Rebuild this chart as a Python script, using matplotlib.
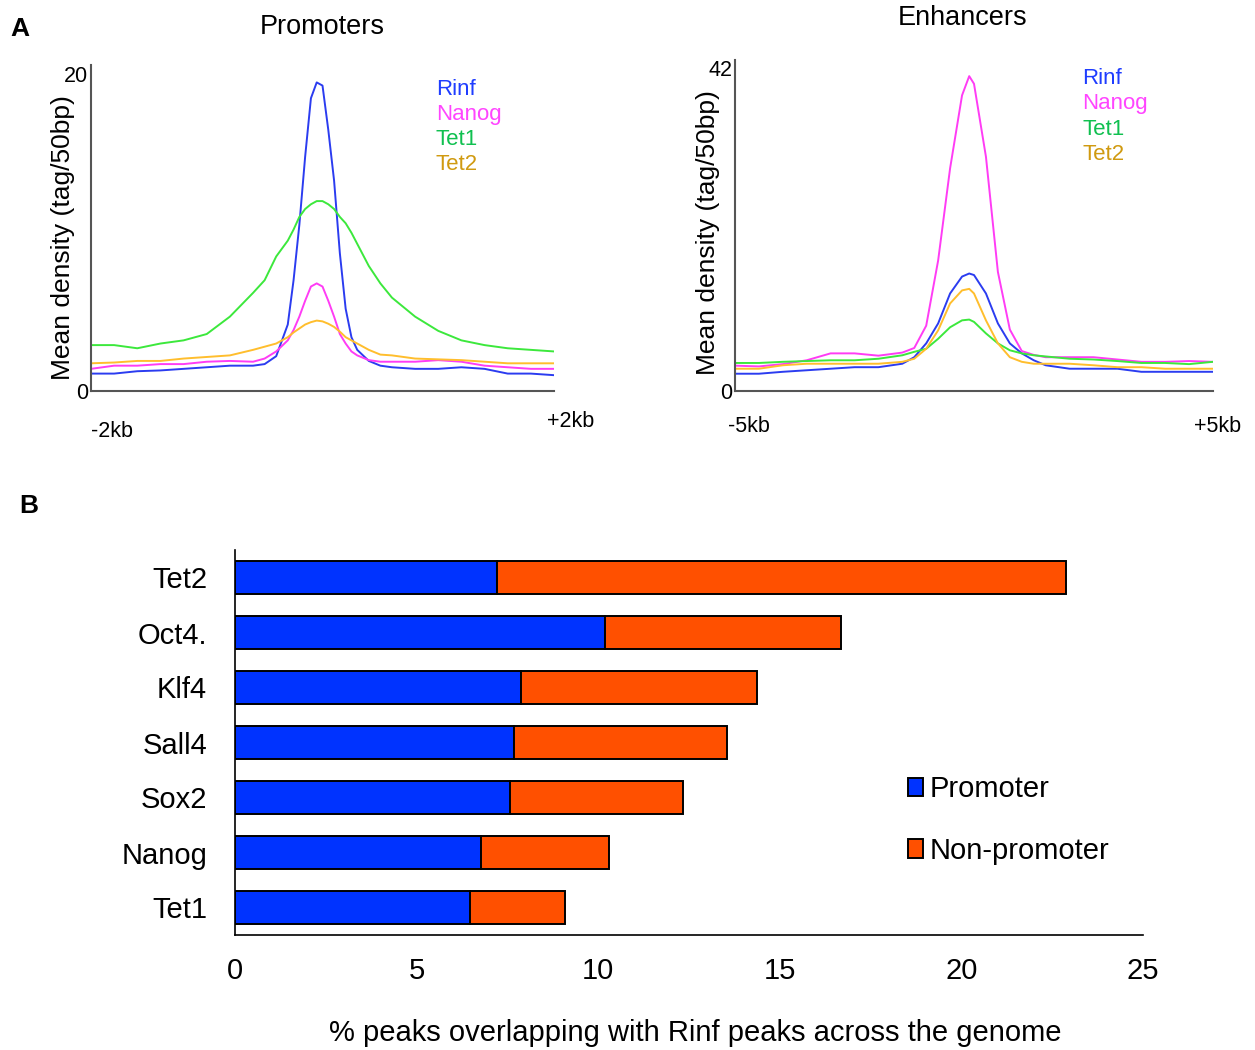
import matplotlib.pyplot as plt
from matplotlib.patches import Patch

plt.rcParams['font.family'] = ['Liberation Sans', 'DejaVu Sans']

# ---- panel A, promoters (kb from peak centre) ----
prom_x = [-2.0, -1.8, -1.6, -1.4, -1.2, -1.0, -0.8, -0.6, -0.5, -0.4, -0.3, -0.25,
          -0.2, -0.15, -0.1, -0.05, 0.0, 0.05, 0.1, 0.15, 0.2, 0.25, 0.3, 0.4,
          0.5, 0.6, 0.8, 1.0, 1.2, 1.4, 1.6, 1.8, 2.0]
prom_rinf = [1.1, 1.1, 1.25, 1.3, 1.4, 1.5, 1.6, 1.6, 1.7, 2.2, 4.2, 7.0,
             10.5, 14.8, 18.5, 19.5, 19.3, 16.5, 13.3, 8.7, 5.2, 3.4, 2.6, 1.9,
             1.6, 1.5, 1.4, 1.4, 1.5, 1.4, 1.1, 1.1, 1.0]
prom_nanog = [1.4, 1.6, 1.6, 1.7, 1.7, 1.85, 1.9, 1.85, 2.05, 2.5, 3.2, 3.85,
              4.7, 5.7, 6.6, 6.8, 6.6, 5.7, 4.7, 3.6, 3.0, 2.5, 2.25, 1.95,
              1.85, 1.85, 1.85, 1.95, 1.85, 1.6, 1.5, 1.4, 1.4]
prom_tet1 = [2.9, 2.9, 2.7, 3.0, 3.2, 3.6, 4.7, 6.2, 7.0, 8.5, 9.5, 10.2,
             11.0, 11.5, 11.8, 12.0, 12.0, 11.8, 11.5, 11.0, 10.6, 10.0, 9.3, 7.9,
             6.8, 5.9, 4.7, 3.8, 3.2, 2.9, 2.7, 2.6, 2.5]
prom_tet2 = [1.75, 1.8, 1.9, 1.9, 2.05, 2.15, 2.25, 2.6, 2.8, 3.0, 3.4, 3.7,
             3.95, 4.2, 4.35, 4.45, 4.4, 4.25, 4.05, 3.75, 3.4, 3.2, 3.0, 2.6,
             2.3, 2.25, 2.05, 2.0, 1.95, 1.85, 1.75, 1.75, 1.75]

# ---- panel A, enhancers ----
enh_x = [-5.0, -4.5, -4.0, -3.5, -3.0, -2.5, -2.0, -1.5, -1.25, -1.0, -0.75, -0.5,
         -0.25, -0.1, 0.0, 0.25, 0.5, 0.75, 1.0, 1.25, 1.5, 2.0, 2.5, 3.0,
         3.5, 4.0, 4.5, 5.0]
enh_rinf = [2.25, 2.25, 2.5, 2.7, 2.9, 3.1, 3.1, 3.55, 4.4, 6.2, 8.8, 12.7,
            14.9, 15.3, 15.1, 12.7, 8.8, 6.2, 4.9, 4.0, 3.35, 2.9, 2.9, 2.9,
            2.5, 2.5, 2.5, 2.5]
enh_nanog = [3.3, 3.2, 3.5, 4.0, 4.9, 4.9, 4.6, 5.0, 5.6, 8.5, 17.0, 29.0,
             38.5, 41.0, 40.0, 30.5, 15.5, 8.0, 5.2, 4.7, 4.4, 4.4, 4.4, 4.1,
             3.8, 3.8, 3.9, 3.8]
enh_tet1 = [3.65, 3.65, 3.8, 3.9, 4.0, 4.0, 4.2, 4.65, 5.1, 5.5, 6.8, 8.3,
            9.2, 9.3, 9.0, 7.5, 6.2, 5.3, 4.9, 4.65, 4.5, 4.2, 4.1, 3.9,
            3.65, 3.65, 3.5, 3.8]
enh_tet2 = [2.9, 2.9, 3.35, 3.55, 3.55, 3.55, 3.55, 3.8, 4.2, 5.5, 7.9, 11.4,
            13.1, 13.3, 12.7, 9.2, 6.2, 4.4, 3.8, 3.55, 3.55, 3.55, 3.35, 3.1,
            3.1, 2.9, 2.9, 2.9]

series_names = ["Rinf", "Nanog", "Tet1", "Tet2"]
line_colors = ["#2b3cf0", "#ff3cf5", "#3ce83c", "#ffbe2d"]
text_colors = ["#1f3dff", "#ff45ff", "#10c050", "#d09a10"]

# ---- panel B ----
factors = ["Tet1", "Nanog", "Sox2", "Sall4", "Klf4", "Oct4.", "Tet2"]
promoter_pct = [6.47, 6.77, 7.57, 7.68, 7.87, 10.19, 7.21]
total_pct = [9.09, 10.30, 12.33, 13.55, 14.37, 16.68, 22.88]
nonpromoter_pct = [t - p for t, p in zip(total_pct, promoter_pct)]

W, H = 1255, 1050


def px_axes(fig, left, top, right, bottom):
    return fig.add_axes([left / W, 1 - bottom / H, (right - left) / W, (bottom - top) / H])


def profile_panel(ax, x, curves, ymax, ytop, xl, xr, title, title_xy, lab_x, lab_y, ylab_xy):
    for ys, c in zip(curves, line_colors):
        ax.plot(x, ys, color=c, lw=1.4)
    ax.set_xlim(x[0], x[-1])
    ax.set_ylim(0, ytop)
    for s in ["top", "right"]:
        ax.spines[s].set_visible(False)
    for s in ["left", "bottom"]:
        ax.spines[s].set_color("#555555")
        ax.spines[s].set_linewidth(1.5)
    ax.set_xticks([])
    ax.set_yticks([0, ymax])
    ax.set_yticklabels(["0", str(ymax)], fontsize=15.5)
    ax.tick_params(axis="y", length=0, pad=2)
    ax.set_ylabel("Mean density (tag/50bp)", fontsize=19)
    ax.yaxis.set_label_coords(ylab_xy[0], ylab_xy[1])
    ax.text(xl[0], xl[1], xl[2], transform=ax.transAxes, fontsize=15.5, ha="center")
    ax.text(xr[0], xr[1], xr[2], transform=ax.transAxes, fontsize=15.5, ha="center")
    ax.figure.text(title_xy[0] / W, 1 - title_xy[1] / H, title, fontsize=19.5,
                   ha="center", va="center")
    for i, (name, c) in enumerate(zip(series_names, text_colors)):
        ax.text(lab_x, lab_y - i * 0.077, name, color=c, fontsize=16,
                transform=ax.transAxes, va="center")


fig = plt.figure(figsize=(12.55, 10.5), dpi=100)

ax1 = px_axes(fig, 91, 65, 554, 391)
profile_panel(ax1, prom_x, [prom_rinf, prom_nanog, prom_tet1, prom_tet2], 20, 20.6,
              (0.045, -0.14, "-2kb"), (1.035, -0.11, "+2kb"),
              "Promoters", (322, 27), 0.745, 0.925, (-0.035, 0.47))

ax2 = px_axes(fig, 735, 60, 1213, 391)
profile_panel(ax2, enh_x, [enh_rinf, enh_nanog, enh_tet1, enh_tet2], 42, 43.1,
              (0.03, -0.125, "-5kb"), (1.01, -0.125, "+5kb"),
              "Enhancers", (963, 18), 0.727, 0.945, (-0.031, 0.48))

fig.text(20 / W, 1 - 29 / H, "A", fontsize=19, fontweight="bold", va="center", ha="center")
fig.text(29 / W, 1 - 506 / H, "B", fontsize=19, fontweight="bold", va="center", ha="center")

# ---- stacked bars ----
ax3 = px_axes(fig, 235, 550, 1143, 935)
ypos = list(range(len(factors)))
ax3.barh(ypos, promoter_pct, height=0.6, color="#0033ff", edgecolor="black", lw=1.4,
         label="Promoter")
ax3.barh(ypos, nonpromoter_pct, left=promoter_pct, height=0.6, color="#ff5000",
         edgecolor="black", lw=1.4, label="Non-promoter")
ax3.set_xlim(0, 25)
ax3.set_ylim(-0.5, 6.5)
ax3.set_yticks(ypos)
ax3.set_yticklabels(factors, fontsize=21)
ax3.set_xticks([0, 5, 10, 15, 20, 25])
ax3.set_xticklabels(["0", "5", "10", "15", "20", "25"], fontsize=21)
ax3.tick_params(axis="both", length=0)
ax3.tick_params(axis="x", pad=16)
ax3.tick_params(axis="y", pad=20)
for s in ["top", "right"]:
    ax3.spines[s].set_visible(False)
ax3.spines["left"].set_linewidth(1.2)
ax3.spines["bottom"].set_linewidth(1.2)
ax3.set_xlabel("% peaks overlapping with Rinf peaks across the genome", fontsize=21)
ax3.xaxis.set_label_coords(0.507, (935 - 1019) / 385)

handles = [Patch(facecolor="#0033ff", edgecolor="black", lw=1.4),
           Patch(facecolor="#ff5000", edgecolor="black", lw=1.4)]
ax3.legend(handles, ["Promoter", "Non-promoter"], loc="center left",
           bbox_to_anchor=(882 / W, 1 - 820 / H), bbox_transform=fig.transFigure,
           frameon=False, fontsize=21, handlelength=0.5, handleheight=0.6,
           handletextpad=0.25, labelspacing=1.15)

fig.savefig("out.png", dpi=100)
